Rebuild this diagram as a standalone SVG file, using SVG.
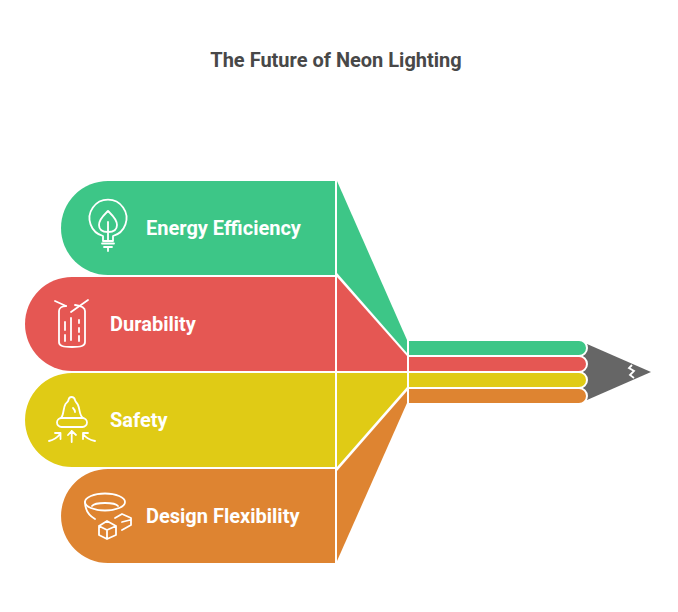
<svg xmlns="http://www.w3.org/2000/svg" width="678" height="612" viewBox="0 0 678 612">
<style>
text{font-family:Roboto,"Liberation Sans",sans-serif;font-weight:700}
.label{font-size:20px;fill:#fff}
.title{font-size:20px;fill:#484848}
.icon{fill:none;stroke:#fff;stroke-width:1.8;stroke-linecap:round;stroke-linejoin:round}
.g{fill:#3dc687}.r{fill:#e55753}.y{fill:#e0cb15}.o{fill:#de8431}
.bar{stroke:#fff;stroke-width:2}
</style>
<rect width="678" height="612" fill="#fff"/>
<text class="title" x="336" y="67" text-anchor="middle">The Future of Neon Lighting</text>
<g id="connectors">
<path d="M587 344L651 372L587 400H575V344Z" fill="#666"/>
<path d="M632 365L629 368L634 371L630 375L634 378" fill="none" stroke="#fff" stroke-width="1.8"/>
<path class="o bar" d="M408 388H579a7.500 7.500 0 0 1 0 16H408Z"/>
<path class="y bar" d="M408 372H579a7.500 7.500 0 0 1 0 16H408Z"/>
<path class="r bar" d="M408 356H579a7.500 7.500 0 0 1 0 16H408Z"/>
<path class="g bar" d="M408 340H579a7.500 7.500 0 0 1 0 16H408Z"/>
</g>
<g id="node-energy">
<path class="g" d="M335 181H108a47 47 0 0 0 0 94H335Z"/>
<path class="g" d="M337 181L407 340V353L337 273Z"/>
<g class="icon">
<path d="M103 241V236A18.500 18.500 0 1 1 113 236V241H103Z"/>
<path d="M108 211C104 215 99 219 99 225C99 230 103 232 108 232C113 232 117 230 117 225C117 219 112 215 108 211ZM108 222V241"/>
<path d="M102 243.500H114M104 247H112M108 247V251"/>
</g>
<text class="label" x="146" y="235">Energy Efficiency</text>
</g>
<g id="node-durability">
<path class="r" d="M335 277H72a47 47 0 0 0 0 94H335Z"/>
<path class="r" d="M337 277L407 356V371H337Z"/>
<g class="icon">
<path d="M55 301L66 306M71 312L88 300"/>
<path d="M66 306C62 306 59 308 59 311V342C59 346 63 347 72 347C81 347 85 346 85 342V311C85 308 83 306 75 305"/>
<path d="M65 322V330M65 335V341M71 318V340M79 320V323M79 328V332M79 336V341"/>
</g>
<text class="label" x="110" y="331">Durability</text>
</g>
<g id="node-safety">
<path class="y" d="M335 373H72a47 47 0 0 0 0 94H335Z"/>
<path class="y" d="M337 373H407V387L337 467Z"/>
<g class="icon">
<path d="M61.500 418H82.500a4.500 4.500 0 0 1 0 9H61.500a4.500 4.500 0 0 1 0-9Z"/>
<path d="M61 418C64 415 63 408 65.500 404C67 402 68 402 68.500 400C69 396 74 396 75 400C75.500 402 77 403 78 405C80 409 79 415 83 418"/>
<path d="M73 408C74 409 75 410 75 412"/>
<path d="M71.700 442V431M68 435L71.700 431L76 435"/>
<path d="M49 441C54 440 57 438 60 434M55 433H60.500V439"/>
<path d="M95 441C90 440 86 438 83 434M88 433H83V439"/>
</g>
<text class="label" x="110" y="427">Safety</text>
</g>
<g id="node-design">
<path class="o" d="M335 469H108a47 47 0 0 0 0 94H335Z"/>
<path class="o" d="M337 471L407 391V403L337 561Z"/>
<g class="icon">
<ellipse cx="105" cy="502" rx="20" ry="8.500"/>
<path d="M92 506C95 502 115 502 118 506M85 502C85 510 88 515 95 519"/>
<path d="M107 521L116 526V535L107 539L99 535V526ZM99 526L107 530L116 526M107 530V539"/>
<path d="M115 518L122 514L131 518V525M122 522L130 520M122 530L131 525"/>
</g>
<text class="label" x="146" y="523">Design Flexibility</text>
</g>
</svg>
